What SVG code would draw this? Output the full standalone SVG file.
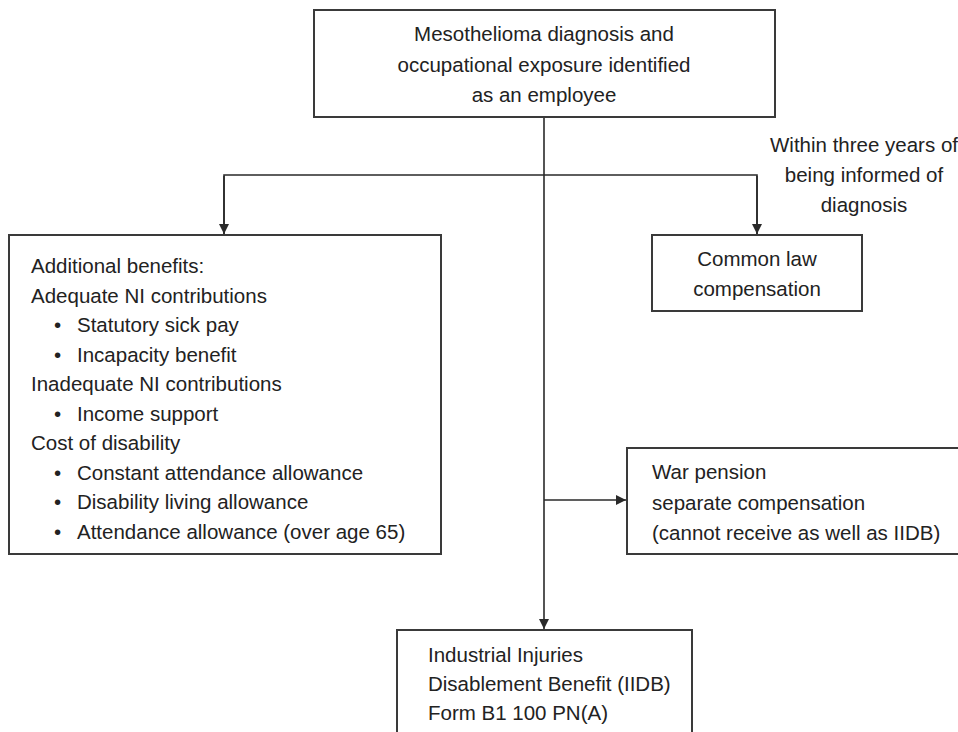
<svg xmlns="http://www.w3.org/2000/svg" width="958" height="732" viewBox="0 0 958 732">
<defs>
<marker id="arr" markerWidth="10" markerHeight="12" refX="10" refY="5" orient="auto" markerUnits="userSpaceOnUse">
<path d="M0,0 L10,5 L0,10 Z" fill="#2a2a2a"/>
</marker>
<style>
.box{fill:#fff;stroke:#3a3a3a;stroke-width:2}
.ln{fill:none;stroke:#2a2a2a;stroke-width:1.6}
text{font-family:"Liberation Sans",Arial,sans-serif;font-size:20.5px;fill:#222}
.c{text-anchor:middle}
</style>
</defs>
<rect width="958" height="732" fill="#fff"/>
<g id="connectors">
<line class="ln" x1="544" y1="117" x2="544" y2="629" marker-end="url(#arr)"/>
<polyline class="ln" points="224,235 224,175 757,175 757,235" />
<line class="ln" x1="224" y1="176" x2="224" y2="234" marker-end="url(#arr)"/>
<line class="ln" x1="757" y1="176" x2="757" y2="234" marker-end="url(#arr)"/>
<line class="ln" x1="544" y1="500" x2="626" y2="500" marker-end="url(#arr)"/>
</g>
<g id="n-top">
<rect class="box" x="314" y="10" width="461" height="107"/>
<text class="c" x="544" y="41">Mesothelioma diagnosis and</text>
<text class="c" x="544" y="72">occupational exposure identified</text>
<text class="c" x="544" y="102">as an employee</text>
</g>
<g id="n-within">
<text class="c" x="864" y="152">Within three years of</text>
<text class="c" x="864" y="182">being informed of</text>
<text class="c" x="864" y="212">diagnosis</text>
</g>
<g id="n-additional">
<rect class="box" x="9" y="235" width="432" height="319"/>
<text x="31" y="273">Additional benefits:</text>
<text x="31" y="302.5">Adequate NI contributions</text>
<text x="54" y="332">•</text><text x="77" y="332">Statutory sick pay</text>
<text x="54" y="361.5">•</text><text x="77" y="361.5">Incapacity benefit</text>
<text x="31" y="391">Inadequate NI contributions</text>
<text x="54" y="420.5">•</text><text x="77" y="420.5">Income support</text>
<text x="31" y="450">Cost of disability</text>
<text x="54" y="479.5">•</text><text x="77" y="479.5">Constant attendance allowance</text>
<text x="54" y="509">•</text><text x="77" y="509">Disability living allowance</text>
<text x="54" y="538.5">•</text><text x="77" y="538.5">Attendance allowance (over age 65)</text>
</g>
<g id="n-common">
<rect class="box" x="652" y="235" width="210" height="76"/>
<text class="c" x="757" y="266">Common law</text>
<text class="c" x="757" y="296">compensation</text>
</g>
<g id="n-war">
<rect class="box" x="627" y="448" width="340" height="106"/>
<text x="652" y="479">War pension</text>
<text x="652" y="510">separate compensation</text>
<text x="652" y="540">(cannot receive as well as IIDB)</text>
</g>
<g id="n-iidb">
<rect class="box" x="397" y="630" width="295" height="120"/>
<text x="428" y="662">Industrial Injuries</text>
<text x="428" y="691">Disablement Benefit (IIDB)</text>
<text x="428" y="720">Form B1 100 PN(A)</text>
</g>
</svg>
